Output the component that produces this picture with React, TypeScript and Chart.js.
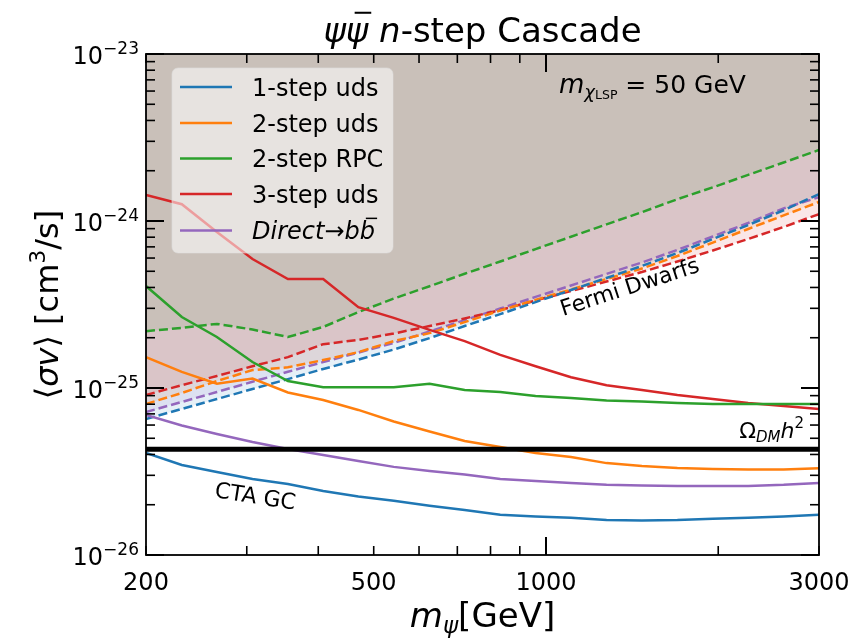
import React, { useEffect, useRef } from 'react';
import { Chart, registerables } from 'chart.js';

Chart.register(...registerables);

// ---------------- data ----------------
const masses = [200, 231, 266, 307, 354, 408, 470, 542, 626, 721, 832, 959, 1106, 1276, 1471, 1697, 1957, 2256, 2602, 3000];

// CTA GC (solid)
const cta1StepUds = [4.08e-26, 3.46e-26, 3.14e-26, 2.85e-26, 2.66e-26, 2.42e-26, 2.24e-26, 2.11e-26, 1.97e-26, 1.86e-26, 1.74e-26, 1.70e-26, 1.67e-26, 1.62e-26, 1.61e-26, 1.62e-26, 1.65e-26, 1.67e-26, 1.70e-26, 1.74e-26];
const cta2StepUds = [1.53e-25, 1.25e-25, 1.06e-25, 1.14e-25, 9.40e-26, 8.48e-26, 7.39e-26, 6.30e-26, 5.49e-26, 4.82e-26, 4.43e-26, 4.08e-26, 3.86e-26, 3.55e-26, 3.41e-26, 3.32e-26, 3.27e-26, 3.25e-26, 3.25e-26, 3.31e-26];
const cta2StepRpc = [4.08e-25, 2.66e-25, 2.02e-25, 1.43e-25, 1.10e-25, 1.01e-25, 1.01e-25, 1.01e-25, 1.06e-25, 9.73e-26, 9.46e-26, 8.96e-26, 8.71e-26, 8.42e-26, 8.30e-26, 8.13e-26, 8.02e-26, 8.02e-26, 8.02e-26, 8.02e-26];
const cta3StepUds = [1.43e-24, 1.26e-24, 8.59e-25, 5.92e-25, 4.49e-25, 4.49e-25, 3.05e-25, 2.63e-25, 2.23e-25, 1.91e-25, 1.58e-25, 1.35e-25, 1.16e-25, 1.04e-25, 9.73e-26, 9.08e-26, 8.59e-26, 8.13e-26, 7.80e-26, 7.49e-26];
const ctaDirectBB = [6.89e-26, 5.96e-26, 5.30e-26, 4.75e-26, 4.31e-26, 3.97e-26, 3.66e-26, 3.37e-26, 3.18e-26, 3.03e-26, 2.85e-26, 2.77e-26, 2.70e-26, 2.63e-26, 2.61e-26, 2.59e-26, 2.59e-26, 2.59e-26, 2.63e-26, 2.70e-26];

// Fermi dwarfs (dashed)
const fermi1StepUds = [6.52e-26, 7.49e-26, 8.59e-26, 9.86e-26, 1.13e-25, 1.30e-25, 1.48e-25, 1.70e-25, 1.99e-25, 2.35e-25, 2.77e-25, 3.27e-25, 3.86e-25, 4.56e-25, 5.38e-25, 6.43e-25, 7.80e-25, 9.46e-25, 1.16e-24, 1.45e-24];
const fermi2StepUds = [8.02e-26, 9.34e-26, 1.10e-25, 1.28e-25, 1.33e-25, 1.47e-25, 1.64e-25, 1.91e-25, 2.13e-25, 2.48e-25, 2.91e-25, 3.37e-25, 3.89e-25, 4.49e-25, 5.19e-25, 6.17e-25, 7.43e-25, 8.96e-25, 1.08e-24, 1.30e-24];
const fermi2StepRpc = [2.19e-25, 2.29e-25, 2.42e-25, 2.24e-25, 2.02e-25, 2.32e-25, 2.85e-25, 3.43e-25, 4.07e-25, 4.83e-25, 5.72e-25, 6.79e-25, 8.05e-25, 9.55e-25, 1.13e-24, 1.35e-24, 1.59e-24, 1.89e-24, 2.24e-24, 2.66e-24];
const fermi3StepUds = [9.08e-26, 1.04e-25, 1.18e-25, 1.35e-25, 1.53e-25, 1.83e-25, 1.94e-25, 2.12e-25, 2.35e-25, 2.61e-25, 2.93e-25, 3.34e-25, 3.81e-25, 4.34e-25, 4.95e-25, 5.72e-25, 6.66e-25, 7.80e-25, 9.21e-25, 1.10e-24];
const fermiDirectBB = [7.18e-26, 8.25e-26, 9.46e-26, 1.09e-25, 1.25e-25, 1.43e-25, 1.63e-25, 1.86e-25, 2.18e-25, 2.55e-25, 2.99e-25, 3.51e-25, 4.11e-25, 4.82e-25, 5.64e-25, 6.71e-25, 8.08e-25, 9.73e-25, 1.19e-24, 1.39e-24];

const relicValue = 4.3e-26;
const relicMasses = [200, 3000];

const legendLabels = ['1-step uds', '2-step uds', '2-step RPC', '3-step uds', 'Direct→bb̄'];
const xTickValues = [200, 500, 1000, 3000];
const xTickLabels = ['200', '500', '1000', '3000'];
const yTickExponents = [-26, -25, -24, -23];

const X_MIN = 200, X_MAX = 3000, Y_MIN = 1e-26, Y_MAX = 1e-23;

// ---------------- styling ----------------
const COLORS = ['#1f77b4', '#ff7f0e', '#2ca02c', '#d62728', '#9467bd'];
const FILL_ALPHA = 0.11;
const FONT = "'DejaVu Sans', sans-serif";

function rgba(hex: string, a: number) {
  const n = parseInt(hex.slice(1), 16);
  return `rgba(${(n >> 16) & 255},${(n >> 8) & 255},${n & 255},${a})`;
}

type Run = { t: string; size: number; italic?: boolean; dy?: number; bar?: boolean };

function runFont(r: Run) {
  return `${r.italic ? 'italic ' : ''}${r.size}px ${FONT}`;
}

function drawRuns(ctx: CanvasRenderingContext2D, runs: Run[], x: number, y: number, align: 'left' | 'center' | 'right', angle = 0) {
  const widths = runs.map((r) => {
    ctx.font = runFont(r);
    return ctx.measureText(r.t).width;
  });
  const total = widths.reduce((a, b) => a + b, 0);
  let cx = align === 'left' ? 0 : align === 'center' ? -total / 2 : -total;
  ctx.save();
  ctx.translate(x, y);
  ctx.rotate(angle);
  ctx.fillStyle = '#000';
  ctx.strokeStyle = '#000';
  ctx.textAlign = 'left';
  ctx.textBaseline = 'alphabetic';
  runs.forEach((r, i) => {
    ctx.font = runFont(r);
    const dy = r.dy || 0;
    ctx.fillText(r.t, cx, dy);
    if (r.bar) {
      const yb = dy - r.size * 0.86;
      const sh = r.italic ? r.size * 0.14 : 0;
      ctx.lineWidth = Math.max(1.5, r.size * 0.06);
      ctx.beginPath();
      ctx.moveTo(cx + widths[i] * 0.18 + sh, yb);
      ctx.lineTo(cx + widths[i] * 0.92 + sh, yb);
      ctx.stroke();
    }
    cx += widths[i];
  });
  ctx.restore();
}

function line(ctx: CanvasRenderingContext2D, x1: number, y1: number, x2: number, y2: number) {
  ctx.beginPath();
  ctx.moveTo(x1, y1);
  ctx.lineTo(x2, y2);
  ctx.stroke();
}

const decorPlugin = {
  id: 'decor',
  afterDatasetsDraw(chart: any) {
    const ctx: CanvasRenderingContext2D = chart.ctx;
    const a = chart.chartArea;
    const xs = chart.scales.x;
    const ys = chart.scales.y;

    // annotations
    drawRuns(ctx, [{ t: 'Fermi Dwarfs', size: 22 }], 563, 316, 'left', (-18 * Math.PI) / 180);
    drawRuns(ctx, [{ t: 'CTA GC', size: 22 }], 214, 497, 'left', (9 * Math.PI) / 180);
    drawRuns(
      ctx,
      [
        { t: 'Ω', size: 22 },
        { t: 'DM', size: 15, italic: true, dy: 4 },
        { t: 'h', size: 22, italic: true },
        { t: '2', size: 15, dy: -10 },
      ],
      804,
      438,
      'right'
    );
    drawRuns(
      ctx,
      [
        { t: 'm', size: 26, italic: true },
        { t: 'χ', size: 18, italic: true, dy: 5 },
        { t: 'LSP', size: 12.5, dy: 6 },
        { t: ' = 50 GeV', size: 25 },
      ],
      559,
      93,
      'left'
    );

    // legend
    const lx = 172, ly = 68, lw = 221, lh = 185, rad = 6;
    ctx.save();
    ctx.beginPath();
    ctx.moveTo(lx + rad, ly);
    ctx.lineTo(lx + lw - rad, ly);
    ctx.arcTo(lx + lw, ly, lx + lw, ly + rad, rad);
    ctx.lineTo(lx + lw, ly + lh - rad);
    ctx.arcTo(lx + lw, ly + lh, lx + lw - rad, ly + lh, rad);
    ctx.lineTo(lx + rad, ly + lh);
    ctx.arcTo(lx, ly + lh, lx, ly + lh - rad, rad);
    ctx.lineTo(lx, ly + rad);
    ctx.arcTo(lx, ly, lx + rad, ly, rad);
    ctx.closePath();
    ctx.fillStyle = 'rgba(255,255,255,0.55)';
    ctx.fill();
    ctx.strokeStyle = 'rgba(220,220,220,0.6)';
    ctx.lineWidth = 1;
    ctx.stroke();
    ctx.restore();
    const rows = [87, 123, 158.5, 194, 230.5];
    legendLabels.forEach((lab, i) => {
      ctx.save();
      ctx.strokeStyle = COLORS[i];
      ctx.lineWidth = 2.5;
      line(ctx, 180, rows[i], 232, rows[i]);
      ctx.restore();
      const base = rows[i] + 8.5;
      if (i === 4) {
        drawRuns(
          ctx,
          [
            { t: 'Direct', size: 24, italic: true },
            { t: '→', size: 24 },
            { t: 'b', size: 24, italic: true },
            { t: 'b', size: 24, italic: true, bar: true },
          ],
          252,
          base,
          'left'
        );
      } else {
        drawRuns(ctx, [{ t: lab, size: 24 }], 252, base, 'left');
      }
    });

    // frame
    ctx.save();
    ctx.strokeStyle = '#000';
    ctx.lineWidth = 1.8;
    ctx.strokeRect(a.left, a.top, a.right - a.left, a.bottom - a.top);

    // x ticks (inward, bottom and top)
    for (const dec of [100, 1000]) {
      for (let k = 1; k <= 9; k++) {
        const v = k * dec;
        if (v < X_MIN || v > X_MAX) continue;
        const px = xs.getPixelForValue(v);
        const major = k === 1;
        const len = major ? 18 : 9;
        ctx.lineWidth = major ? 2 : 1.6;
        line(ctx, px, a.bottom, px, a.bottom - len);
        line(ctx, px, a.top, px, a.top + len);
      }
    }
    // y ticks (inward, left and right)
    for (const d of yTickExponents) {
      for (let k = 1; k <= 9; k++) {
        const v = k * Math.pow(10, d);
        if (v < Y_MIN * 0.9999 || v > Y_MAX * 1.0001) continue;
        const py = ys.getPixelForValue(v);
        const major = k === 1;
        const len = major ? 18 : 9;
        ctx.lineWidth = major ? 2 : 1.6;
        line(ctx, a.left, py, a.left + len, py);
        line(ctx, a.right, py, a.right - len, py);
      }
    }
    ctx.restore();

    // tick labels
    xTickValues.forEach((v, i) => {
      drawRuns(ctx, [{ t: xTickLabels[i], size: 24 }], xs.getPixelForValue(v), 590, 'center');
    });
    yTickExponents.forEach((e) => {
      const py = ys.getPixelForValue(Math.pow(10, e));
      drawRuns(
        ctx,
        [
          { t: '10', size: 24 },
          { t: '−' + String(Math.abs(e)), size: 17, dy: -10 },
        ],
        a.left - 7,
        py + 10,
        'right'
      );
    });

    // title
    drawRuns(
      ctx,
      [
        { t: 'ψ', size: 34, italic: true },
        { t: 'ψ', size: 34, italic: true, bar: true },
        { t: ' ', size: 34 },
        { t: 'n', size: 34, italic: true },
        { t: '-step Cascade', size: 34 },
      ],
      (a.left + a.right) / 2,
      42,
      'center'
    );

    // x label
    drawRuns(
      ctx,
      [
        { t: 'm', size: 34, italic: true },
        { t: 'ψ', size: 23, italic: true, dy: 6 },
        { t: '[GeV]', size: 34 },
      ],
      (a.left + a.right) / 2,
      627,
      'center'
    );

    // y label (rotated)
    drawRuns(
      ctx,
      [
        { t: '⟨', size: 32 },
        { t: 'σv', size: 32, italic: true },
        { t: '⟩ [cm', size: 32 },
        { t: '3', size: 22, dy: -13 },
        { t: '/s]', size: 32 },
      ],
      58,
      (a.top + a.bottom) / 2,
      'center',
      -Math.PI / 2
    );
  },
};

function series(vals: number[]) {
  return masses.map((m, i) => ({ x: m, y: vals[i] }));
}

export default function App() {
  const ref = useRef<HTMLCanvasElement | null>(null);

  useEffect(() => {
    if (!ref.current) return;
    const solids = [cta1StepUds, cta2StepUds, cta2StepRpc, cta3StepUds, ctaDirectBB];
    const dashed = [fermi1StepUds, fermi2StepUds, fermi2StepRpc, fermi3StepUds, fermiDirectBB];
    const datasets: any[] = [
      {
        label: 'relic',
        data: relicMasses.map((m) => ({ x: m, y: relicValue })),
        borderColor: '#000',
        borderWidth: 5,
        pointRadius: 0,
        fill: false,
      },
    ];
    solids.forEach((vals, i) => {
      datasets.push({
        label: legendLabels[i],
        data: series(vals),
        borderColor: COLORS[i],
        borderWidth: 2.5,
        pointRadius: 0,
        tension: 0,
        fill: false,
      });
    });
    dashed.forEach((vals, i) => {
      datasets.push({
        label: legendLabels[i] + ' Fermi',
        data: series(vals),
        borderColor: COLORS[i],
        backgroundColor: rgba(COLORS[i], FILL_ALPHA),
        borderWidth: 2.5,
        borderDash: [9, 4],
        pointRadius: 0,
        tension: 0,
        fill: 'end',
      });
    });

    const chart = new Chart(ref.current, {
      type: 'line',
      data: { datasets },
      options: {
        animation: false,
        responsive: false,
        devicePixelRatio: 1,
        layout: { padding: { left: 146, right: 32, top: 54, bottom: 83 } },
        scales: {
          x: { type: 'logarithmic', min: X_MIN, max: X_MAX, display: false },
          y: { type: 'logarithmic', min: Y_MIN, max: Y_MAX, display: false },
        },
        plugins: {
          legend: { display: false },
          tooltip: { enabled: false },
          title: { display: false },
          filler: { drawTime: 'beforeDatasetsDraw' },
        },
      } as any,
      plugins: [decorPlugin],
    });
    return () => chart.destroy();
  }, []);

  return (
    <div style={{ position: 'absolute', left: 0, top: 0, width: 851, height: 638, background: '#fff' }}>
      <canvas ref={ref} width={851} height={638} style={{ display: 'block' }} />
    </div>
  );
}
